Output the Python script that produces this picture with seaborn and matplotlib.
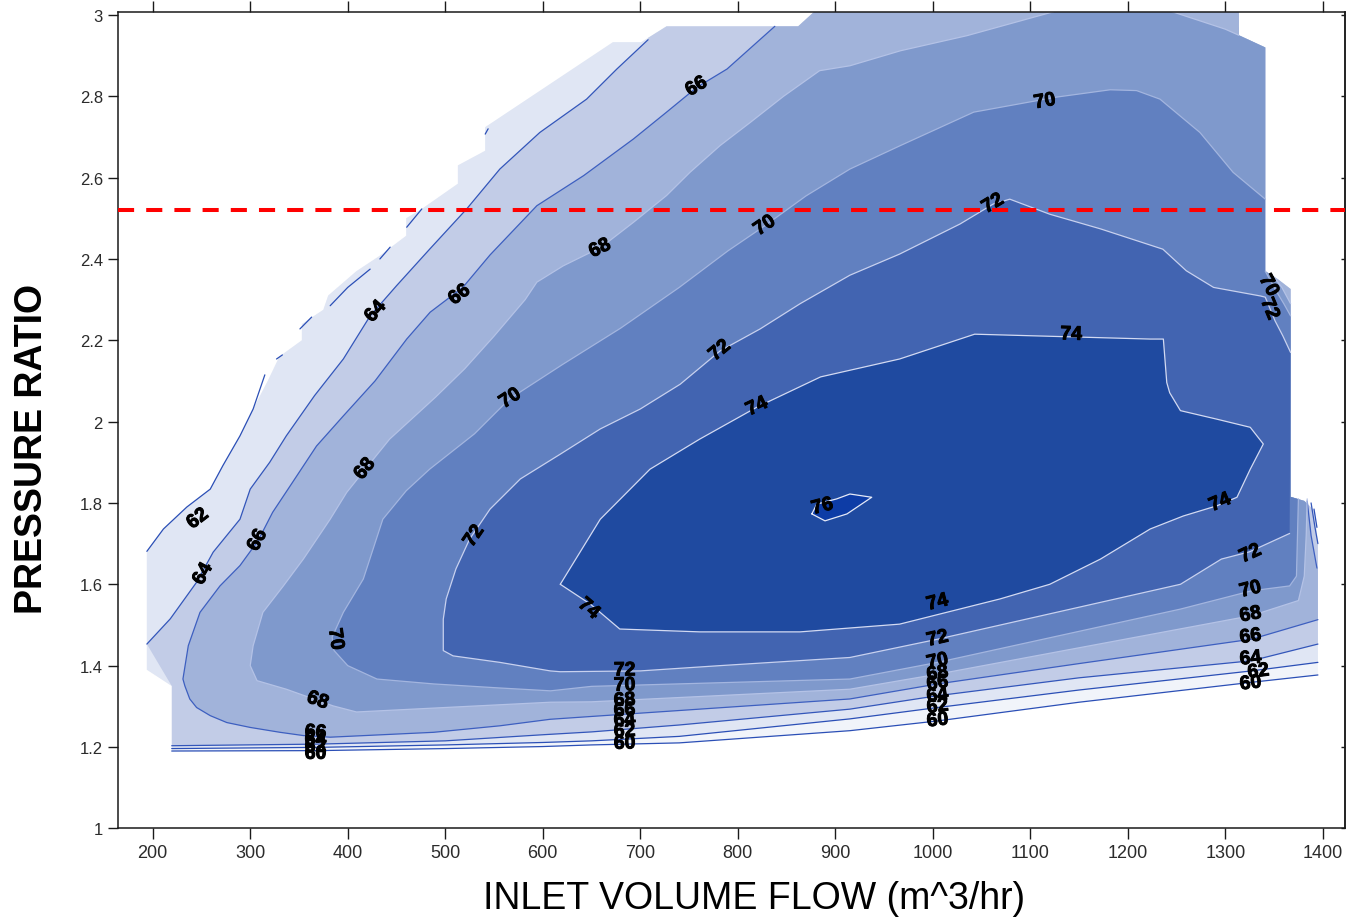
import numpy as np
import pandas as pd
import matplotlib
matplotlib.use("Agg")
import matplotlib.pyplot as plt
import matplotlib.patheffects as pe
from matplotlib.patches import Polygon
import seaborn as sns

sns.set_theme(style="ticks")
plt.rcParams['font.family'] = ['Liberation Sans', 'DejaVu Sans']

# ---------------------------------------------------------------------------
# Compressor map: isentropic efficiency (%) over inlet flow and pressure ratio
# ---------------------------------------------------------------------------
LEVELS = [60, 62, 64, 66, 68, 70, 72, 74, 76]
SURGE_LIMIT_PR = 2.52

x_ticks = [200, 300, 400, 500, 600, 700, 800, 900, 1000, 1100, 1200, 1300, 1400]
y_ticks = [1.0, 1.2, 1.4, 1.6, 1.8, 2.0, 2.2, 2.4, 2.6, 2.8, 3.0]
y_tick_labels = ['1', '1.2', '1.4', '1.6', '1.8', '2', '2.2', '2.4', '2.6', '2.8', '3']

# outline of the measured operating region
map_flow = [219.5, 219.5, 194, 194, 211, 235, 259, 272, 289.5, 303, 318, 330, 353, 353,
            375, 380, 409, 433, 460, 460, 476, 513, 513, 541, 541, 672, 701, 727, 862,
            884, 1314, 1314, 1341, 1341, 1354, 1367, 1367, 1381, 1392, 1395, 1395]
map_pr = [0.95, 1.35, 1.39, 1.681, 1.736, 1.79, 1.834, 1.892, 1.965, 2.031, 2.10, 2.16, 2.20,
          2.24, 2.275, 2.31, 2.37, 2.408, 2.457, 2.50, 2.523, 2.585, 2.63, 2.666, 2.724,
          2.933, 2.933, 2.972, 2.972, 3.02, 3.02, 2.95, 2.92, 2.37, 2.35, 2.326, 1.815,
          1.805, 1.78, 1.70, 0.95]

# low-pressure (choke) side iso-efficiency lines
eff60_flow = [219.5, 370, 500, 600, 650, 740, 915, 1005, 1150, 1327, 1395]
eff60_pr = [1.190, 1.191, 1.196, 1.201, 1.205, 1.210, 1.240, 1.264, 1.310, 1.359, 1.377]
eff62_flow = [219.5, 370, 500, 600, 650, 740, 915, 1005, 1150, 1327, 1395]
eff62_pr = [1.196, 1.199, 1.205, 1.211, 1.215, 1.226, 1.269, 1.297, 1.340, 1.387, 1.408]
eff64_flow = [219.5, 370, 500, 600, 650, 740, 915, 1005, 1150, 1327, 1395]
eff64_pr = [1.203, 1.207, 1.215, 1.230, 1.237, 1.254, 1.293, 1.326, 1.370, 1.412, 1.453]

# surge side of the 62 % line (broken where the map edge cuts it)
surge62_flow = [[194, 211, 235, 259, 272, 289.5, 303, 315], [327, 333], [351, 363],
                [382, 400, 423], [433, 443.5], [460.5, 476], [541, 544]]
surge62_pr = [[1.681, 1.736, 1.79, 1.834, 1.892, 1.965, 2.031, 2.115], [2.154, 2.164],
              [2.228, 2.257], [2.285, 2.33, 2.375], [2.40, 2.429], [2.478, 2.523],
              [2.707, 2.72]]
surge64_flow = [708, 676, 645, 597, 556, 522, 484, 450, 423, 395.5, 366, 337, 320, 300,
                289.5, 262, 245, 218, 194]
surge64_pr = [2.939, 2.867, 2.793, 2.711, 2.621, 2.523, 2.424, 2.334, 2.26, 2.154, 2.064,
              1.965, 1.90, 1.834, 1.76, 1.679, 1.605, 1.515, 1.453]

eff66_flow = [838, 789, 758, 727, 693, 642, 594, 546, 518, 484.5, 460.5, 428, 395.5, 368,
              341, 323, 308, 289.5, 269, 248.5, 236.5, 231, 233, 238, 245, 259, 276, 300,
              330.6, 354.5, 382, 488, 556, 607.5, 650, 915, 1005, 1150, 1327, 1395]
eff66_pr = [2.972, 2.867, 2.822, 2.761, 2.695, 2.605, 2.531, 2.41, 2.33, 2.269, 2.203, 2.10,
            2.014, 1.94, 1.842, 1.777, 1.707, 1.646, 1.596, 1.531, 1.449, 1.367, 1.35,
            1.318, 1.297, 1.277, 1.26, 1.248, 1.236, 1.228, 1.224, 1.236, 1.252, 1.268,
            1.275, 1.318, 1.355, 1.405, 1.465, 1.513]

eff68_flow = [1124, 1035, 967, 915, 884, 847, 813, 782, 751, 727, 693, 660, 621, 594, 582,
              550, 520, 490, 443, 418, 399, 382, 354.5, 334, 313, 303, 300, 307, 337, 385,
              409, 500, 608, 650, 915, 1005, 1327, 1375, 1381, 1383, 1384]
eff68_pr = [3.008, 2.949, 2.912, 2.875, 2.863, 2.80, 2.736, 2.679, 2.613, 2.556, 2.49, 2.429,
            2.383, 2.343, 2.30, 2.21, 2.13, 2.06, 1.957, 1.883, 1.826, 1.76, 1.662, 1.596,
            1.531, 1.449, 1.40, 1.363, 1.342, 1.301, 1.286, 1.297, 1.31, 1.311, 1.342,
            1.379, 1.523, 1.56, 1.62, 1.72, 1.81]
top68_flow = [1243, 1300, 1314]
top68_pr = [3.01, 2.965, 2.95]

eff70_flow = [1341, 1308, 1274, 1233, 1209, 1182, 1127, 1042, 967, 915, 870, 828, 790, 740,
              680, 620, 566, 530, 484, 460, 436, 416, 395.5, 384, 386, 400, 430, 488, 556,
              608, 650, 915, 1005, 1254, 1327, 1366, 1373, 1375]
eff70_pr = [2.547, 2.613, 2.711, 2.793, 2.814, 2.816, 2.798, 2.761, 2.679, 2.621, 2.555,
            2.482, 2.42, 2.33, 2.23, 2.14, 2.056, 1.97, 1.883, 1.83, 1.76, 1.613, 1.531,
            1.47, 1.437, 1.40, 1.367, 1.355, 1.345, 1.338, 1.349, 1.367, 1.408, 1.539,
            1.584, 1.596, 1.62, 1.81]

eff72_flow = [1366, 1325, 1296, 1254, 1005, 915, 782, 700, 618, 607.7, 556, 508, 498, 498,
              501, 511, 525, 546, 577, 618, 659, 700, 741, 782, 823, 864, 915, 966, 1028,
              1062, 1079, 1120, 1172, 1236, 1260, 1288, 1336, 1341, 1351, 1359, 1367]
eff72_pr = [1.725, 1.68, 1.662, 1.60, 1.465, 1.42, 1.40, 1.387, 1.385, 1.387, 1.408, 1.424,
            1.437, 1.514, 1.564, 1.638, 1.711, 1.785, 1.859, 1.92, 1.982, 2.031, 2.092,
            2.174, 2.228, 2.29, 2.36, 2.412, 2.486, 2.535, 2.547, 2.51, 2.474, 2.424,
            2.371, 2.33, 2.309, 2.306, 2.248, 2.211, 2.17]

eff74_flow = [618, 649, 679, 761, 864, 966, 1069, 1120, 1172, 1223, 1257, 1291.4, 1312,
              1325.6, 1339, 1325.6, 1291.4, 1254, 1243, 1240, 1236.5, 1223, 1043, 966, 885,
              820, 761, 710, 659, 618]
eff74_pr = [1.60, 1.551, 1.49, 1.483, 1.483, 1.502, 1.564, 1.60, 1.662, 1.736, 1.768, 1.793,
            1.814, 1.883, 1.945, 1.986, 2.006, 2.027, 2.071, 2.096, 2.203, 2.203, 2.215,
            2.154, 2.11, 2.036, 1.957, 1.883, 1.76, 1.60]

eff76_flow = [876, 889.5, 912, 937.4, 915, 901.5, 881, 876]
eff76_pr = [1.773, 1.756, 1.773, 1.814, 1.822, 1.81, 1.797, 1.773]

# short pieces in the high-flow lobes of the map
choke62_flow = [1391, 1394]
choke62_pr = [1.785, 1.74]
choke64_flow = [1388, 1392, 1395]
choke64_pr = [1.80, 1.74, 1.70]
choke66_flow = [1384, 1388, 1394]
choke66_pr = [1.805, 1.72, 1.64]
lobe68_flow = [1350, 1358, 1367]
lobe68_pr = [2.355, 2.33, 2.29]
lobe70_flow = [1341, 1350, 1360, 1367]
lobe70_pr = [2.37, 2.33, 2.29, 2.26]

# contour labels: level, flow, pressure ratio
label_level = [62, 64, 66, 68, 70, 68, 64, 66, 68, 66, 70, 70, 70, 72, 72, 72, 74, 74, 74,
               74, 74, 76, 70, 72,
               72, 70, 68, 66, 64, 62, 60,
               72, 70, 68, 66, 64, 62, 60,
               72, 70, 68, 66, 64, 62, 60,
               66, 64, 62, 60]
label_flow = [246.5, 252, 308, 418, 387, 369, 429, 515, 659, 758, 567, 828, 1115, 530, 782,
              1062, 1142, 820, 647, 1005, 1295, 887, 1344, 1345,
              684, 684, 684, 684, 684, 684, 684,
              1005, 1005, 1005, 1005, 1005, 1005, 1005,
              1326, 1326, 1326, 1326, 1326, 1334, 1326,
              367, 367, 367, 367]
label_pr = [1.76, 1.625, 1.708, 1.883, 1.465, 1.313, 2.27, 2.311, 2.425, 2.823, 2.056, 2.481,
            2.786, 1.718, 2.174, 2.535, 2.213, 2.036, 1.539, 1.554, 1.80, 1.79, 2.334, 2.277,
            1.387, 1.35, 1.313, 1.288, 1.264, 1.237, 1.207,
            1.465, 1.409, 1.379, 1.355, 1.325, 1.298, 1.264,
            1.674, 1.586, 1.524, 1.47, 1.416, 1.384, 1.355,
            1.234, 1.216, 1.199, 1.182]

# ---------------------------------------------------------------------------
band_colors = {60: '#f1f4fa', 62: '#e0e6f4', 64: '#c2cce7', 66: '#a1b3da', 68: '#7f99cc',
               70: '#6180c0', 72: '#4264b1', 74: '#1f4aa0', 76: '#0d3ca6'}
line_colors = {60: '#2b4fb6', 62: '#2b4fb6', 64: '#3356ba', 66: '#3d5fc0', 68: '#b4c2e6',
               70: '#a3b5df', 72: '#c8d1ef', 74: '#d3daf2', 76: '#e6eaf8'}


def pts(fx, fy, rev=False):
    p = list(zip(fx, fy))
    return p[::-1] if rev else p


XL, XR, YT = 100.0, 1500.0, 3.3
fill_rings = {
    60: pts(eff60_flow, eff60_pr) + [(XR, eff60_pr[-1]), (XR, YT), (XL, YT), (XL, eff60_pr[0])],
    62: pts(eff62_flow, eff62_pr) + [(XR, eff62_pr[-1]), (XR, choke62_pr[-1])]
        + pts(choke62_flow, choke62_pr, rev=True)
        + [(choke62_flow[0], 1.95), (XR, 1.95), (XR, YT), (XL, YT), (XL, eff62_pr[0])],
    64: pts(surge64_flow, surge64_pr) + [(219.5, 1.35)] + pts(eff64_flow, eff64_pr)
        + [(XR, eff64_pr[-1]), (XR, choke64_pr[-1])] + pts(choke64_flow, choke64_pr, rev=True)
        + [(choke64_flow[0], 1.95), (XR, 1.95), (XR, YT), (surge64_flow[0], YT)],
    66: pts(eff66_flow, eff66_pr) + [(XR, eff66_pr[-1]), (XR, choke66_pr[-1])]
        + pts(choke66_flow, choke66_pr, rev=True)
        + [(choke66_flow[0], 1.95), (XR, 1.95), (XR, YT), (eff66_flow[0], YT)],
    68: pts(eff68_flow, eff68_pr) + [(eff68_flow[-1], 1.95), (XR, 1.95), (XR, lobe68_pr[-1])]
        + pts(lobe68_flow, lobe68_pr, rev=True) + [(lobe68_flow[0], 2.97), (1314, 2.97)]
        + pts(top68_flow, top68_pr, rev=True) + [(top68_flow[0], YT), (eff68_flow[0], YT)],
    70: pts(eff70_flow, eff70_pr) + [(eff70_flow[-1], 1.95), (XR, 1.95), (XR, lobe70_pr[-1])]
        + pts(lobe70_flow, lobe70_pr, rev=True),
    72: pts(eff72_flow, eff72_pr),
    74: pts(eff74_flow, eff74_pr),
    76: pts(eff76_flow, eff76_pr),
}

line_pieces = {
    60: [(eff60_flow, eff60_pr)],
    62: [(eff62_flow, eff62_pr), (choke62_flow, choke62_pr)]
        + list(zip(surge62_flow, surge62_pr)),
    64: [(eff64_flow, eff64_pr), (surge64_flow, surge64_pr), (choke64_flow, choke64_pr)],
    66: [(eff66_flow, eff66_pr), (choke66_flow, choke66_pr)],
    68: [(eff68_flow, eff68_pr), (top68_flow, top68_pr), (lobe68_flow, lobe68_pr)],
    70: [(eff70_flow, eff70_pr), (lobe70_flow, lobe70_pr)],
    72: [(eff72_flow, eff72_pr)],
    74: [(eff74_flow, eff74_pr)],
    76: [(eff76_flow, eff76_pr)],
}

# ---------------------------------------------------------------------------
fig = plt.figure(figsize=(13.47, 9.2), dpi=100)
ax = fig.add_axes([0.0876, 0.0986, 0.9110, 0.8876])
ax.set_xlim(164.4, 1422.9)
ax.set_ylim(1.0, 3.008)

region = Polygon(np.column_stack([map_flow, map_pr]), closed=True,
                 transform=ax.transData, facecolor='none', edgecolor='none')

for lev in LEVELS:
    ring = np.array(fill_rings[lev])
    patch = ax.fill(ring[:, 0], ring[:, 1], color=band_colors[lev], lw=0, zorder=1)[0]
    patch.set_clip_path(region)

rows = []
pid = 0
for lev in LEVELS:
    for fx, fy in line_pieces[lev]:
        for i, (a, b) in enumerate(zip(fx, fy)):
            rows.append({'flow': a, 'pr': b, 'level': lev, 'piece': pid, 'order': i})
        pid += 1
lines_df = pd.DataFrame(rows)
sns.lineplot(data=lines_df, x='flow', y='pr', hue='level', units='piece', estimator=None,
             sort=False, palette=line_colors, legend=False, linewidth=0.9, zorder=2, ax=ax)

ax.axhline(SURGE_LIMIT_PR, color='#ff0000', lw=2.9, dashes=(4, 3), zorder=4)


def label_angle(level, x, y):
    q = ax.transData.transform((x, y))
    best = None
    for fx, fy in line_pieces[level]:
        P = ax.transData.transform(np.column_stack([fx, fy]))
        for i in range(len(P) - 1):
            a, b = P[i], P[i + 1]
            ab = b - a
            t = np.clip(np.dot(q - a, ab) / max(np.dot(ab, ab), 1e-9), 0, 1)
            d = np.linalg.norm(a + t * ab - q)
            if best is None or d < best[0]:
                best = (d, ab)
    ang = np.degrees(np.arctan2(best[1][1], best[1][0]))
    if ang > 90:
        ang -= 180
    if ang <= -90:
        ang += 180
    return ang


label_stroke = [pe.withStroke(linewidth=0.7, foreground='black')]
for lev, fx, fy in zip(label_level, label_flow, label_pr):
    ax.text(fx, fy, str(lev), rotation=label_angle(lev, fx, fy), rotation_mode='anchor',
            ha='center', va='center', fontsize=14, fontweight='bold', color='black',
            zorder=5, path_effects=label_stroke)

# axes frame and ticks
for side in ['left', 'right', 'top', 'bottom']:
    ax.spines[side].set_visible(True)
    ax.spines[side].set_color('#1a1a1a')
    ax.spines[side].set_linewidth(1.1)

ax.set_xticks(x_ticks)
ax.set_xticklabels([str(v) for v in x_ticks])
ax.set_yticks(y_ticks)
ax.set_yticklabels(y_tick_labels)
ax.tick_params(axis='x', direction='out', length=7.7, width=1.0, top=True, labeltop=False,
               bottom=True, pad=3.6, labelsize=13, labelcolor='#2b2b2b', color='#1a1a1a')
ax.tick_params(axis='y', direction='out', length=7.2, width=1.0, left=True, right=False,
               pad=3.6, labelsize=12, labelcolor='#2b2b2b', color='#1a1a1a')
sec = ax.secondary_yaxis('right')
sec.set_yticks(y_ticks)
sec.tick_params(axis='y', direction='in', length=3, width=1.0, labelright=False,
                color='#1a1a1a')
sec.spines['right'].set_linewidth(1.1)

ax.set_xlabel('INLET VOLUME FLOW (m^3/hr)', fontsize=27, color='black', va='center')
ax.set_ylabel('PRESSURE RATIO', fontsize=27, fontweight='bold', color='black', va='center')
ax.xaxis.set_label_coords(0.518, -0.0854)
ax.yaxis.set_label_coords(-0.070, 0.466)
ax.grid(False)

fig.savefig('out.png', dpi=100)
